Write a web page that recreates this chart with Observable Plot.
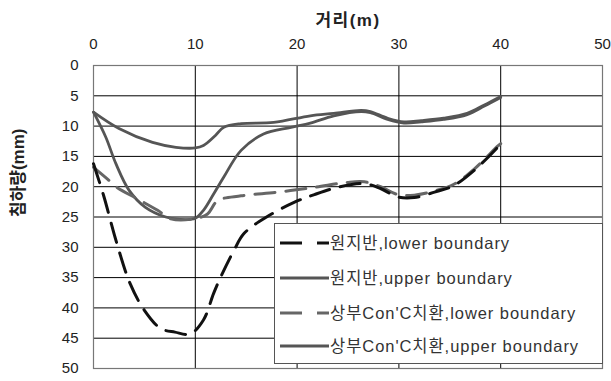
<!DOCTYPE html>
<html>
<head>
<meta charset="utf-8">
<script src="https://cdn.jsdelivr.net/npm/d3@7"></script>
<script src="https://cdn.jsdelivr.net/npm/@observablehq/plot@0.6"></script>
<style>
  html, body { margin: 0; padding: 0; background: #fff; }
  #wrap { position: relative; width: 611px; height: 381px; font-family: "Liberation Sans", Arial, "Noto Sans CJK KR", sans-serif; }
  #legend { position: absolute; left: 274px; top: 223px; }
</style>
</head>
<body>
<div id="wrap"></div>
<script>
// ---- data ----
const seriesNames = ["원지반,lower boundary", "원지반,upper boundary", "상부Con'C치환,lower boundary", "상부Con'C치환,upper boundary"];

const s1x = [0, 1, 2.3, 3.6, 5, 6.6, 8, 9.5, 10.8, 11.8, 12.5, 13.8, 14.8, 17, 19.7, 21.7, 24, 26.6, 28.2, 29.9, 31.5, 33.5, 35.4, 37.4, 39.7, 40];
const s1y = [16.2, 21.5, 29.4, 36, 40.4, 43.4, 44, 44.3, 42, 37.6, 34.9, 30.5, 27.7, 25, 22.6, 21.3, 20.1, 19.5, 20.3, 21.7, 21.8, 20.9, 19.8, 17.3, 13.5, 12.9];

const s2x = [0, 1.2, 2.2, 3.5, 5.1, 7.1, 8.5, 10, 10.8, 11.8, 12.8, 14.5, 16.7, 19.4, 21.3, 23.6, 26.3, 27.2, 28.9, 30.5, 32.2, 34.4, 36.7, 38.4, 40];
const s2y = [7.7, 11.8, 16.2, 20.6, 23.4, 25, 25.4, 25.2, 23.9, 21.2, 18.4, 14, 11.3, 10.2, 9.5, 8.3, 7.6, 7.8, 8.9, 9.5, 9.3, 8.9, 8.1, 6.7, 5.3];

const s3x = [0, 1.35, 2.3, 4.3, 6.3, 7.6, 9.9, 11.2, 12.2, 14.5, 18.1, 21.7, 24.9, 26.6, 28.2, 29.9, 31.5, 33.5, 35.4, 37.4, 39.7, 40];
const s3y = [16.8, 18.7, 20.1, 22, 23.9, 25.3, 25.3, 24.5, 22.3, 21.5, 20.9, 20.1, 19.3, 19.2, 20, 21.3, 21.4, 20.7, 19.6, 17.1, 13.3, 12.9];

const s4x = [0, 2.5, 5.8, 8.1, 10, 10.8, 12, 12.8, 14.5, 17.7, 21.3, 23.6, 26.3, 27.2, 28.9, 30.5, 32.2, 34.4, 36.7, 38.4, 40];
const s4y = [7.7, 10.4, 12.7, 13.5, 13.6, 13.2, 11.5, 10.2, 9.6, 9.4, 8.3, 7.9, 7.4, 7.6, 8.7, 9.3, 9.1, 8.7, 7.9, 6.5, 5.1];

const xTicks = [0, 10, 20, 30, 40, 50];
const yTicks = [0, 5, 10, 15, 20, 25, 30, 35, 40, 45, 50];
const xTitle = "거리(m)";
const yTitle = "침하량(mm)";

// ---- styles ----
const styles = [
  {stroke: "#111", dash: "20,11", width: 3},
  {stroke: "#555", dash: null, width: 2.8},
  {stroke: "#666", dash: "20,11", width: 3},
  {stroke: "#555", dash: null, width: 2.8}
];

const toRows = (xs, ys) => xs.map((x, i) => ({x, y: ys[i]}));
const rows = [toRows(s1x, s1y), toRows(s2x, s2y), toRows(s3x, s3y), toRows(s4x, s4y)];

const lineMark = (i) => Plot.line(rows[i], {
  x: "x", y: "y", curve: "catmull-rom",
  stroke: styles[i].stroke, strokeWidth: styles[i].width,
  strokeDasharray: styles[i].dash || undefined
});

const plot = Plot.plot({
  width: 611,
  height: 381,
  marginTop: 65,
  marginBottom: 13,
  marginLeft: 93,
  marginRight: 9,
  style: {fontFamily: "'Liberation Sans', Arial, 'Noto Sans CJK KR', sans-serif", background: "#fff"},
  x: {domain: [0, 50], axis: null},
  y: {domain: [0, 50], reverse: true, axis: null},
  marks: [
    Plot.gridX(xTicks, {stroke: "#000", strokeOpacity: 1, strokeWidth: 1}),
    Plot.gridY(yTicks, {stroke: "#000", strokeOpacity: 1, strokeWidth: 1}),
    Plot.frame({stroke: "#777", strokeWidth: 1.2}),
    Plot.axisX(xTicks, {anchor: "top", tickSize: 0, tickPadding: 17, fontSize: 15, fill: "#222", label: null}),
    Plot.axisY(yTicks, {anchor: "left", tickSize: 0, tickPadding: 15, fontSize: 15, fill: "#222", label: null}),
    lineMark(1),
    lineMark(3),
    lineMark(2),
    lineMark(0),
    Plot.text([xTitle], {frameAnchor: "top", dy: -45, fontSize: 17, fontWeight: "bold", fill: "#222", lineAnchor: "middle", style: "letter-spacing:1.5px"}),
    Plot.text([yTitle], {frameAnchor: "left", dx: -75, rotate: -90, fontSize: 17, fontWeight: "bold", fill: "#222", lineAnchor: "middle"})
  ]
});

const wrap = document.getElementById("wrap");
wrap.appendChild(plot);
plot.querySelectorAll("text").forEach(t => {
  if (t.textContent === xTitle) t.setAttribute("letter-spacing", "1.5");
});

// ---- legend overlay ----
const ns = "http://www.w3.org/2000/svg";
const lg = document.createElementNS(ns, "svg");
lg.setAttribute("id", "legend");
lg.setAttribute("width", 330);
lg.setAttribute("height", 142);
const box = document.createElementNS(ns, "rect");
box.setAttribute("x", 0.5); box.setAttribute("y", 0.5);
box.setAttribute("width", 328); box.setAttribute("height", 140);
box.setAttribute("fill", "#fff"); box.setAttribute("stroke", "#555");
lg.appendChild(box);
const rowY = [20, 55, 90, 123];
seriesNames.forEach((name, i) => {
  const st = styles[i];
  const ln = document.createElementNS(ns, "line");
  ln.setAttribute("x1", 6); ln.setAttribute("x2", 55);
  ln.setAttribute("y1", rowY[i]); ln.setAttribute("y2", rowY[i]);
  ln.setAttribute("stroke", st.stroke);
  ln.setAttribute("stroke-width", 3);
  if (st.dash) ln.setAttribute("stroke-dasharray", "22,15");
  lg.appendChild(ln);
  const tx = document.createElementNS(ns, "text");
  tx.setAttribute("x", 56); tx.setAttribute("y", rowY[i]);
  tx.setAttribute("dy", "0.36em");
  tx.setAttribute("font-size", 16.5);
  tx.setAttribute("letter-spacing", "0.95");
  tx.setAttribute("fill", "#333");
  tx.setAttribute("font-family", "'Liberation Sans', Arial, 'Noto Sans CJK KR', sans-serif");
  tx.textContent = name;
  lg.appendChild(tx);
});
wrap.appendChild(lg);
</script>
</body>
</html>
